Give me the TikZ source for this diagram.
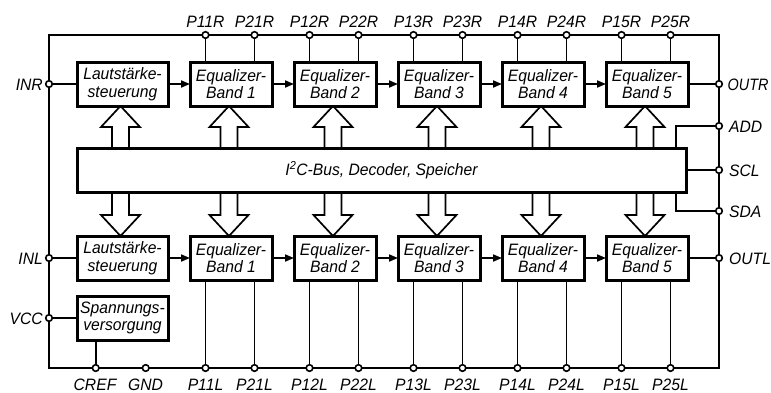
\documentclass[tikz,border=0pt]{standalone}
\usepackage{fontspec}
\setmainfont{Liberation Sans}[FakeStretch=0.95]
\usetikzlibrary{arrows.meta,calc,backgrounds}
\newcommand\bigarrow[3]{%
  \draw[bigarr] let \p1=(#2), \p2=(#1) in
    (\x1-2pt,\y1) -- (\x1+17.5pt,\y1#3) -- (\x1+6.5pt,\y1#3) -- (\x1+6.5pt,\y2)
    -- (\x1-10.5pt,\y2) -- (\x1-10.5pt,\y1#3) -- (\x1-21.5pt,\y1#3) -- cycle;}
\begin{document}
\begin{tikzpicture}[x=1pt,y=-1pt,
  txt/.style={font=\fontsize{16.5}{17.5}\selectfont\itshape},
  box/.style={txt,draw,line width=3pt,fill=white,minimum width=91pt,minimum height=44pt,
    inner sep=0pt,outer sep=0pt,align=center},
  eq/.style={box,minimum width=82pt},
  wire/.style={line width=1.8pt},
  term/.style={circle,draw,line width=1.6pt,fill=white,minimum size=6.6pt,inner sep=0pt,outer sep=0pt},
  lab/.style={txt,inner sep=0pt},
  bigarr/.style={line width=1.7pt,draw,fill=white,line join=miter},
  smallarr/.style={wire,-{Triangle[length=9pt,width=7pt]}}
]
\useasboundingbox (0,0) rectangle (771,392);
% frame
\coordinate (ftl) at (49,35);
\coordinate (fbr) at (719,368);
\draw[wire] (ftl) rectangle (fbr);

% blocks
\path (122.5,84) node[box] (lr) {Lautstärke-\\steuerung};
\path (122.5,258) node[box] (ll) {Lautstärke-\\steuerung};
\path (122.5,318) node[box] (sv) {Spannungs-\\versorgung};
\path (381.5,170) node[box,minimum width=609pt] (bus) {I\textsuperscript{2}C-Bus, Decoder, Speicher};
\begin{scope}[on background layer]
  \bigarrow{bus.north}{lr.south}{-21pt}
  \bigarrow{bus.south}{ll.north}{+21pt}
\end{scope}
\foreach \i in {1,...,5}{
  \pgfmathsetmacro\cx{231+104*(\i-1)}
  \path (\cx,84) node[eq] (b\i r) {Equalizer-\\Band \i};
  \path (\cx,258) node[eq] (b\i l) {Equalizer-\\Band \i};
  \node[term] (p1\i r) at (\cx-25.5,35) {};
  \node[term] (p2\i r) at (\cx+23.5,35) {};
  \node[term] (p1\i l) at (\cx-25.5,368) {};
  \node[term] (p2\i l) at (\cx+23.5,368) {};
  \node[lab,anchor=base] (t1\i r) at (\cx-25.5,27) {P1\i R};
  \node[lab,anchor=base] (t2\i r) at (\cx+23.5,27) {P2\i R};
  \node[lab,anchor=base] (t1\i l) at (\cx-25.5,390) {P1\i L};
  \node[lab,anchor=base] (t2\i l) at (\cx+23.5,390) {P2\i L};
  \begin{scope}[on background layer]
    \draw[wire] (p1\i r) -- (p1\i r |- b\i r.north);
    \draw[wire] (p2\i r) -- (p2\i r |- b\i r.north);
    \draw[wire] (p1\i l) -- (p1\i l |- b\i l.south);
    \draw[wire] (p2\i l) -- (p2\i l |- b\i l.south);
    \bigarrow{bus.north}{b\i r.south}{-21pt}
    \bigarrow{bus.south}{b\i l.north}{+21pt}
  \end{scope}
}
% small arrows between blocks
\draw[smallarr] (lr.east) -- (b1r.west);
\draw[smallarr] (ll.east) -- (b1l.west);
\foreach \i/\j in {1/2,2/3,3/4,4/5}{
  \draw[smallarr] (b\i r.east) -- (b\j r.west);
  \draw[smallarr] (b\i l.east) -- (b\j l.west);
}
% side terminals
\node[term] (inr) at (49,84) {};
\node[term] (inl) at (49,258) {};
\node[term] (vcc) at (49,318) {};
\node[term] (outr) at (719,84) {};
\node[term] (add) at (719,126) {};
\node[term] (scl) at (719,170) {};
\node[term] (sda) at (719,211) {};
\node[term] (outl) at (719,258) {};
\node[term] (cref) at (95.7,368) {};
\node[term] (gnd) at (145.7,368) {};
\coordinate (adda) at ($(bus.north east)+(-10,0)$);
\coordinate (sdaa) at ($(bus.south east)+(-10,0)$);
\begin{scope}[on background layer]
  \draw[wire] (inr) -- (lr.west);
  \draw[wire] (inl) -- (ll.west);
  \draw[wire] (vcc) -- (sv.west);
  \draw[wire] (cref) -- (cref |- sv.south);
  \draw[wire] (b5r.east) -- (outr);
  \draw[wire] (b5l.east) -- (outl);
  \draw[wire] (bus.east) -- (scl);
  \draw[wire] (adda) |- (add);
  \draw[wire] (sdaa) |- (sda);
\end{scope}
% side labels
\node[lab,anchor=base east] (tinr) at (43,90.5) {INR};
\node[lab,anchor=base east] (tinl) at (43,264.5) {INL};
\node[lab,anchor=base east] (tvcc) at (43,324.5) {VCC};
\node[lab,anchor=base west] (toutr) at (727.5,90.5) {\scalebox{0.92}[1]{OUTR}};
\node[lab,anchor=base west] (tadd) at (729,132.5) {ADD};
\node[lab,anchor=base west] (tscl) at (729,176.5) {SCL};
\node[lab,anchor=base west] (tsda) at (729,217.5) {SDA};
\node[lab,anchor=base west] (toutl) at (729,264.5) {OUTL};
\node[lab,anchor=base] (tcref) at (95,390) {CREF};
\node[lab,anchor=base] (tgnd) at (145.5,390) {GND};
\end{tikzpicture}
\end{document}
